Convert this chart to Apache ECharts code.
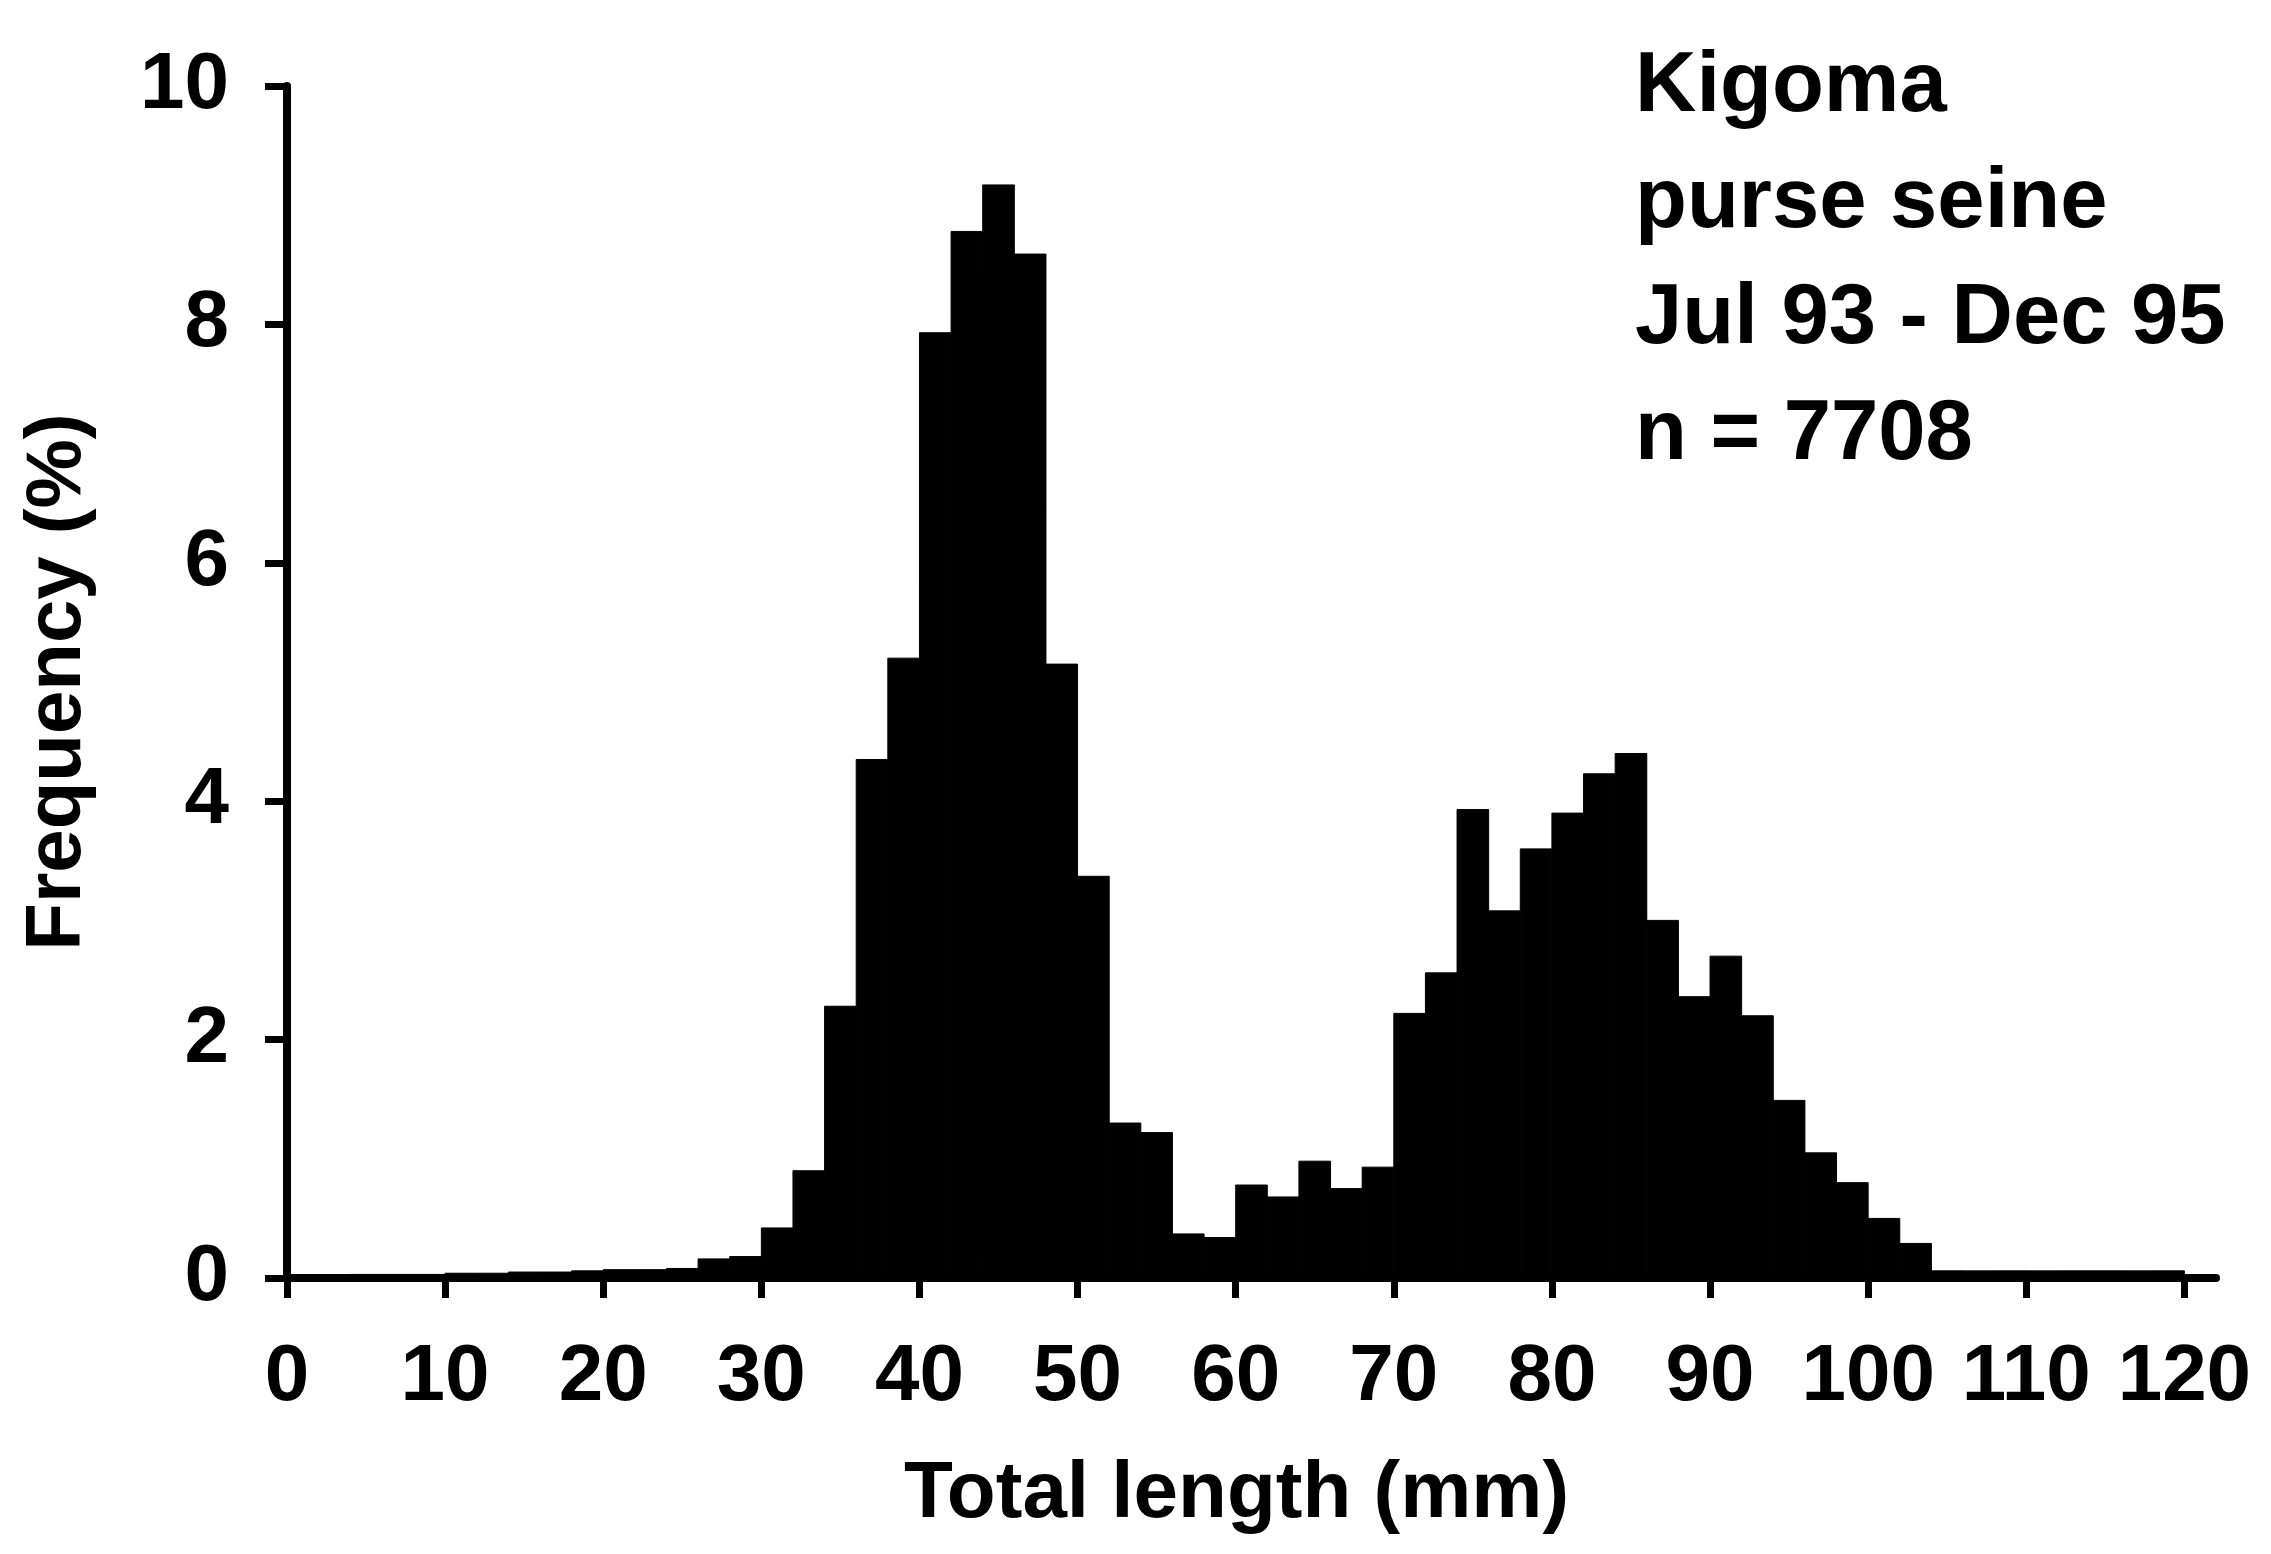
<!DOCTYPE html>
<html>
<head>
<meta charset="utf-8">
<script src="https://cdn.jsdelivr.net/npm/echarts@6/dist/echarts.min.js"></script>
<style>
html,body{margin:0;padding:0;background:#fff;}
#c{width:2271px;height:1554px;}
</style>
</head>
<body>
<div id="c"></div>
<script>
// Histogram bins (total length, mm): lower edges, 2 mm wide
const binStarts = [0,2,4,6,8,10,12,14,16,18,20,22,24,26,28,30,32,34,36,38,40,42,44,46,48,50,52,54,56,58,
                   60,62,64,66,68,70,72,74,76,78,80,82,84,86,88,90,92,94,96,98,100,102,104,106,108,110,112,114,116,118];
const binWidth = 2;
// Frequency (%) per bin
const frequency = [0.02,0.02,0.03,0.03,0.03,0.04,0.04,0.05,0.05,0.06,0.07,0.07,0.08,0.16,0.18,
                   0.42,0.9,2.28,4.35,5.2,7.93,8.78,9.17,8.59,5.15,3.37,1.3,1.22,0.37,0.34,
                   0.78,0.68,0.98,0.75,0.93,2.22,2.56,3.93,3.08,3.6,3.9,4.23,4.4,3.0,2.36,
                   2.7,2.2,1.49,1.05,0.8,0.5,0.29,0.06,0.06,0.06,0.06,0.06,0.06,0.06,0.06];
const xTickValues = [0,10,20,30,40,50,60,70,80,90,100,110,120];
const yTickValues = [0,2,4,6,8,10];
const annotationLines = ['Kigoma','purse seine','Jul 93 - Dec 95','n = 7708'];
const xAxisName = 'Total length (mm)';
const yAxisName = 'Frequency (%)';

const FONT = "'Liberation Sans', Arial, Helvetica, sans-serif";
const chart = echarts.init(document.getElementById('c'), null, {renderer:'canvas'});

const data = binStarts.map((s, i) => [s, s + binWidth, frequency[i]]);

chart.setOption({
  backgroundColor: '#ffffff',
  animation: false,
  grid: {left: 287, right: 55, top: 86, bottom: 276, containLabel: false},
  xAxis: {
    type: 'value', min: 0, max: 122,
    name: xAxisName, nameLocation: 'middle', nameGap: 177,
    nameTextStyle: {fontFamily: FONT, fontWeight: 'bold', fontSize: 80, color: '#000', padding: [0, 0, 0, -30]},
    axisLine: {show: true, lineStyle: {color: '#000', width: 8}},
    axisTick: {show: true, length: 20, customValues: xTickValues, lineStyle: {color: '#000', width: 7}},
    axisLabel: {fontFamily: FONT, fontWeight: 'bold', fontSize: 80, color: '#000', margin: 60, customValues: xTickValues},
    splitLine: {show: false}
  },
  yAxis: {
    type: 'value', min: 0, max: 10,
    name: yAxisName, nameLocation: 'middle', nameGap: 190, nameRotate: 90,
    nameTextStyle: {fontFamily: FONT, fontWeight: 'bold', fontSize: 78, color: '#000'},
    axisLine: {show: true, lineStyle: {color: '#000', width: 8}},
    axisTick: {show: true, length: 22, customValues: yTickValues, lineStyle: {color: '#000', width: 7}},
    axisLabel: {fontFamily: FONT, fontWeight: 'bold', fontSize: 80, color: '#000', margin: 58, customValues: yTickValues},
    splitLine: {show: false}
  },
  series: [{
    type: 'custom',
    data: data,
    encode: {x: [0, 1], y: 2},
    renderItem: function (params, api) {
      const p0 = api.coord([api.value(0), api.value(2)]);
      const p1 = api.coord([api.value(1), 0]);
      return {
        type: 'rect',
        shape: {x: p0[0], y: p0[1], width: p1[0] - p0[0], height: p1[1] - p0[1]},
        style: {fill: '#000', stroke: '#000', lineWidth: 1}
      };
    }
  }],
  graphic: [{
    type: 'text', left: 1635, top: 30,
    style: {
      text: annotationLines.join('\n'),
      fontFamily: FONT, fontWeight: 'bold', fontSize: 85, lineHeight: 116, fill: '#000'
    }
  }]
});
</script>
</body>
</html>
